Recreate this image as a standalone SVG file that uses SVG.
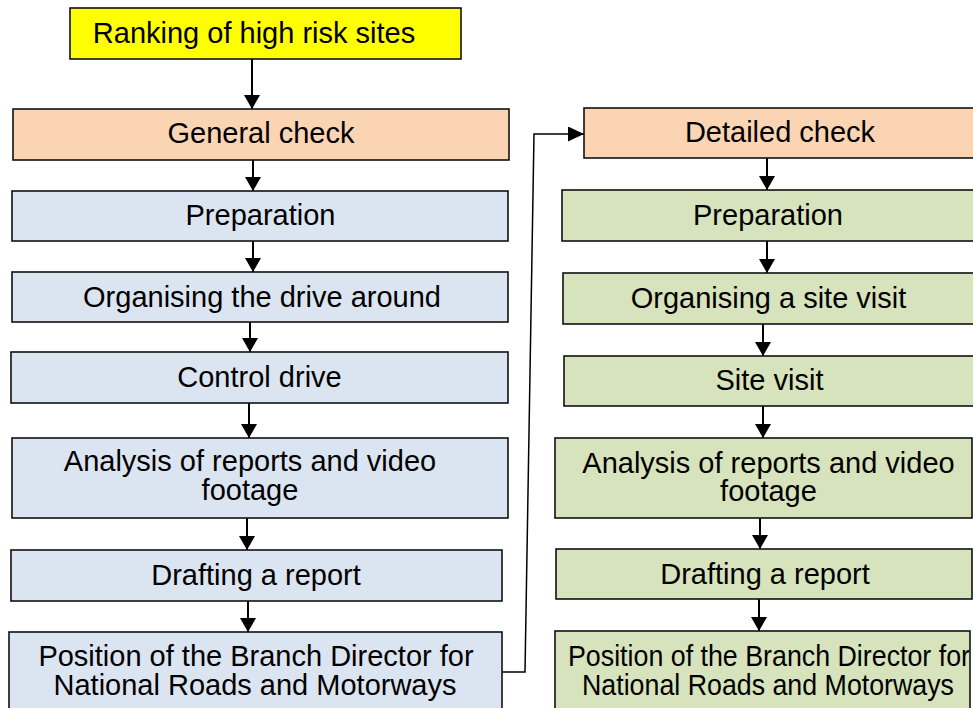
<svg xmlns="http://www.w3.org/2000/svg" width="973" height="708" viewBox="0 0 973 708">
<defs>
<style>
.box{stroke:#111;stroke-width:1.6}
.y{fill:#FFFF00}
.o{fill:#FBD4B4}
.b{fill:#DBE5F1}
.g{fill:#D7E3BC}
text{font-family:"Liberation Sans",Arial,sans-serif;font-size:29px;fill:#000;text-anchor:middle}
.arr{stroke:#000;stroke-width:2;fill:none;marker-end:url(#ah)}
.elb{stroke:#000;stroke-width:1.5;fill:none;marker-end:url(#ah2)}
</style>
<marker id="ah" markerUnits="userSpaceOnUse" markerWidth="16" markerHeight="16" refX="14" refY="8" orient="auto">
<path d="M0,0 L14,8 L0,16 z" fill="#000"/>
</marker>
<marker id="ah2" markerUnits="userSpaceOnUse" markerWidth="16" markerHeight="16" refX="16" refY="7.5" orient="auto">
<path d="M0,0 L16,7.5 L0,15 z" fill="#000"/>
</marker>
<clipPath id="clipPos"><rect x="556" y="632" width="413" height="80"/></clipPath>
</defs>
<rect width="973" height="708" fill="#fff"/>

<g id="connectors">
<path class="arr" d="M252,59 L252,109"/>
<path class="arr" d="M253,160 L253,191"/>
<path class="arr" d="M253,241 L253,272"/>
<path class="arr" d="M250,322 L250,352"/>
<path class="arr" d="M249,403 L249,438"/>
<path class="arr" d="M247,518 L247,550"/>
<path class="arr" d="M248,601 L248,632"/>
<path class="arr" d="M767,158 L767,190"/>
<path class="arr" d="M767,241 L767,273"/>
<path class="arr" d="M763,324 L763,356"/>
<path class="arr" d="M763,406 L763,438"/>
<path class="arr" d="M760,518 L760,549"/>
<path class="arr" d="M759,599 L759,631"/>
<path class="elb" d="M498,672 L525,672 L534,134 L584,134"/>
</g>

<g id="ranking">
<rect class="box y" x="70" y="8" width="391" height="51"/>
<text x="254" y="42.5">Ranking of high risk sites</text>
</g>
<g id="general-check">
<rect class="box o" x="13" y="109" width="496" height="51"/>
<text x="261" y="143">General check</text>
</g>
<g id="gc-preparation">
<rect class="box b" x="12" y="191" width="496" height="50"/>
<text x="260.5" y="225">Preparation</text>
</g>
<g id="gc-organising">
<rect class="box b" x="12" y="272" width="496" height="50"/>
<text x="262" y="306.5">Organising the drive around</text>
</g>
<g id="gc-control-drive">
<rect class="box b" x="11" y="352" width="497" height="51"/>
<text x="259.5" y="386.5">Control drive</text>
</g>
<g id="gc-analysis">
<rect class="box b" x="12" y="438" width="496" height="80"/>
<text x="250" y="471">Analysis of reports and video</text>
<text x="250" y="499.5">footage</text>
</g>
<g id="gc-drafting">
<rect class="box b" x="11" y="550" width="491" height="51"/>
<text x="256" y="585">Drafting a report</text>
</g>
<g id="gc-position">
<rect class="box b" x="9" y="632" width="493" height="90"/>
<text x="256" y="666">Position of the Branch Director for</text>
<text x="255" y="695">National Roads and Motorways</text>
</g>

<g id="detailed-check">
<rect class="box o" x="584" y="108" width="400" height="50"/>
<text x="780" y="142">Detailed check</text>
</g>
<g id="dc-preparation">
<rect class="box g" x="562" y="190" width="420" height="51"/>
<text x="768" y="225">Preparation</text>
</g>
<g id="dc-organising">
<rect class="box g" x="563" y="273" width="420" height="51"/>
<text x="768.5" y="308">Organising a site visit</text>
</g>
<g id="dc-site-visit">
<rect class="box g" x="564" y="356" width="420" height="50"/>
<text x="769.5" y="390">Site visit</text>
</g>
<g id="dc-analysis">
<rect class="box g" x="555" y="438" width="417" height="80"/>
<text x="768.5" y="472.5">Analysis of reports and video</text>
<text x="768.5" y="501">footage</text>
</g>
<g id="dc-drafting">
<rect class="box g" x="556" y="549" width="416" height="50"/>
<text x="765" y="583.5">Drafting a report</text>
</g>
<g id="dc-position">
<rect class="box g" x="555" y="631" width="415" height="90"/>
<g clip-path="url(#clipPos)">
<text x="568" y="665.5" style="text-anchor:start" textLength="402" lengthAdjust="spacingAndGlyphs">Position of the Branch Director for</text>
</g>
<text x="768" y="695" textLength="372" lengthAdjust="spacingAndGlyphs">National Roads and Motorways</text>
</g>
</svg>
